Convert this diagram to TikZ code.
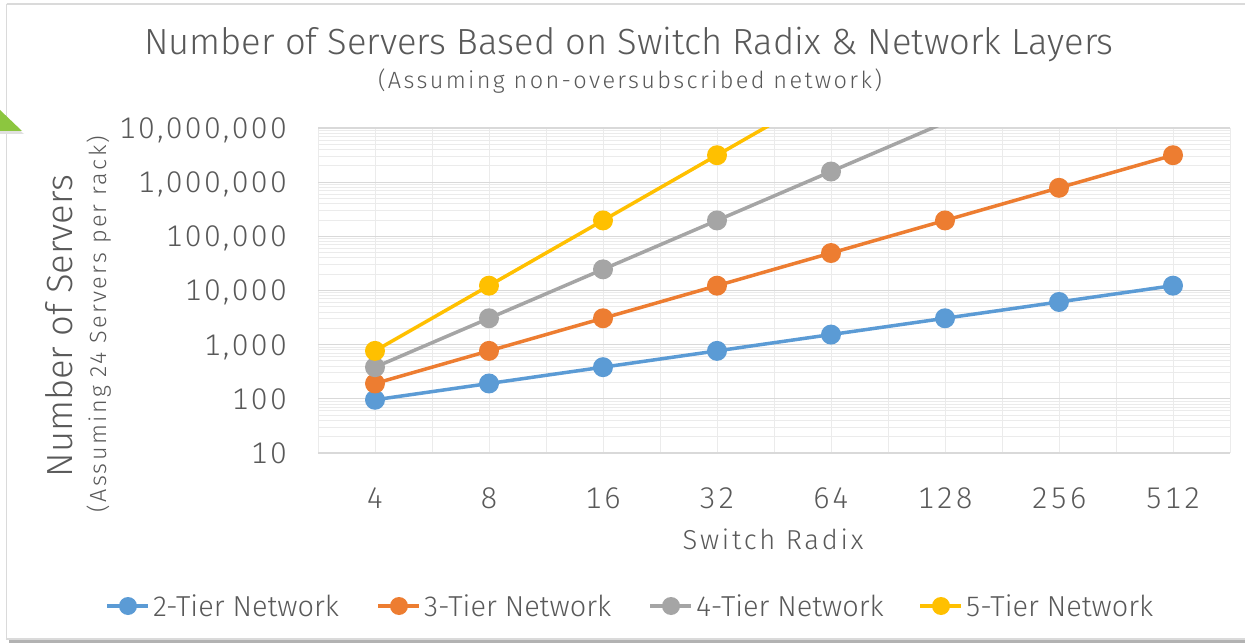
\documentclass[tikz,border=0pt]{standalone}
\usepackage{fontspec}
\setmainfont{Fira Sans Light}
\newfontfamily\plainfont{Fira Sans Light}
\newfontfamily\widefont{Fira Sans Light}[LetterSpace=10]
\newfontfamily\numfont{Fira Sans Light}[Numbers=Monospaced, LetterSpace=8]
\definecolor{txt}{HTML}{595959}
\definecolor{gridmaj}{HTML}{D9D9D9}
\definecolor{gridmin}{HTML}{EBEBEB}
\definecolor{frame}{HTML}{DADADA}
\definecolor{tierA}{HTML}{5B9BD5}
\definecolor{tierB}{HTML}{ED7D31}
\definecolor{tierC}{HTML}{A5A5A5}
\definecolor{tierD}{HTML}{FFC000}
\definecolor{tri}{HTML}{8CC63F}
\newcommand\fs[1]{\fontsize{#1}{#1}\selectfont}
\begin{document}
\begin{tikzpicture}[x=1bp,y=-1bp,
  series/.style={draw=#1, line width=3.5bp, line join=round, line cap=round},
  dot/.style={circle, fill=#1, draw=none, inner sep=0pt, minimum size=20bp},
  legdot/.style={circle, fill=#1, draw=none, inner sep=0pt, minimum size=18bp},
  legline/.style={draw=#1, line width=3.5bp},
  lbl/.style={text=txt, inner sep=0pt},
  ytick/.style={lbl, anchor=base east, font=\numfont\fs{30}},
  xtick/.style={lbl, anchor=base, font=\numfont\fs{30}},
  legtxt/.style={lbl, anchor=west, font=\plainfont\fs{29}},
  minorline/.style={draw=gridmin, line width=1bp},
  majorline/.style={draw=gridmaj, line width=1.2bp}]
\useasboundingbox (0,0) rectangle (1245,643);
\fill[white] (0,0) rectangle (1245,643);

% chart frame with its bottom shadow
\fill[black!30] (9,639) rectangle (1245,643);
\draw[frame, line width=1.2bp] (6.5,4) -- (1245,4) (6.5,4) -- (6.5,639) -- (1245,639);

% corner marker
\fill[black!12] (0,114) -- (24,134) -- (0,134) -- cycle;
\fill[tri] (0,110) -- (22,131) -- (0,131) -- cycle;

% titles
\node[lbl, anchor=base, font=\plainfont\fs{36.5}] (title) at (629,55) {Number of Servers Based on Switch Radix \& Network Layers};
\node[lbl, anchor=base, font=\widefont\fs{23.6}] (subtitle) at (630,89) {(Assuming non-oversubscribed network)};

% plot grid: minor logarithmic lines, then decades and category lines
\foreach \d in {0,...,5}
  \foreach \m in {2,...,9}
    \draw[minorline] (318,{453-(\d+log10(\m))*54.1667}) -- (1230,{453-(\d+log10(\m))*54.1667});
\foreach \i in {0,...,16}
  \draw[minorline] ({318+\i*57},128) -- ({318+\i*57},453);
\foreach \d in {0,...,6}
  \draw[majorline] (318,{453-\d*54.1667}) -- (1230,{453-\d*54.1667});

% y axis labels
\foreach \v [count=\d from 0] in {10,100,{1,000},{10,000},{100,000},{1,000,000},{10,000,000}}
  \node[ytick] (yt\d) at (287,{453-\d*54.1667+10.5}) {\v};

% x axis labels
\foreach \r [count=\i from 0] in {4,8,16,32,64,128,256,512}
  \node[xtick] (xt\i) at ({375+\i*114},508) {\r};
\node[lbl, anchor=base, font=\widefont\fs{27.5}] (xtitle) at (773,549) {Switch Radix};

% y axis titles
\node[lbl, anchor=base, rotate=90, font=\plainfont\fs{36.5}] (ytitle) at (72,326) {Number of Servers};
\node[lbl, anchor=base, rotate=90, font=\widefont\fs{23.5}] (ysub) at (106,324) {(Assuming 24 Servers per rack)};

% data points: servers = 24 k^t / 2^(t-1) with k = 2^n
\foreach \n in {2,...,9} {
  \coordinate (a\n) at ({375+(\n-2)*114},{453-(0.380211+\n*0.30103)*54.1667});
  \coordinate (b\n) at ({375+(\n-2)*114},{453-(0.079181+2*\n*0.30103)*54.1667});
}
\foreach \n in {2,...,7}
  \coordinate (c\n) at ({375+(\n-2)*114},{453-(-0.221849+3*\n*0.30103)*54.1667});
\foreach \n in {2,...,6}
  \coordinate (d\n) at ({375+(\n-2)*114},{453-(-0.522879+4*\n*0.30103)*54.1667});

\begin{scope}
  \clip (318,128) rectangle (1230,453);
  \draw[series=tierA] (a2) -- (a3) -- (a4) -- (a5) -- (a6) -- (a7) -- (a8) -- (a9);
  \foreach \n in {2,...,9} \node[dot=tierA] (ma\n) at (a\n) {};
  \draw[series=tierB] (b2) -- (b3) -- (b4) -- (b5) -- (b6) -- (b7) -- (b8) -- (b9);
  \foreach \n in {2,...,9} \node[dot=tierB] (mb\n) at (b\n) {};
  \draw[series=tierC] (c2) -- (c3) -- (c4) -- (c5) -- (c6) -- (c7);
  \foreach \n in {2,...,6} \node[dot=tierC] (mc\n) at (c\n) {};
  \draw[series=tierD] (d2) -- (d3) -- (d4) -- (d5) -- (d6);
  \foreach \n in {2,...,5} \node[dot=tierD] (md\n) at (d\n) {};
\end{scope}

% legend
\foreach \k/\c/\x/\t in {A/tierA/107/2,B/tierB/378/3,C/tierC/650/4,D/tierD/920/5} {
  \coordinate (l\k s) at (\x,606);
  \coordinate (l\k e) at (\x+41,606);
  \draw[legline=\c] (l\k s) -- (l\k e);
  \node[legdot=\c] (l\k m) at (\x+21,606) {};
  \node[legtxt] (l\k t) at (\x+46,606) {\t-Tier Network};
}
\end{tikzpicture}
\end{document}
